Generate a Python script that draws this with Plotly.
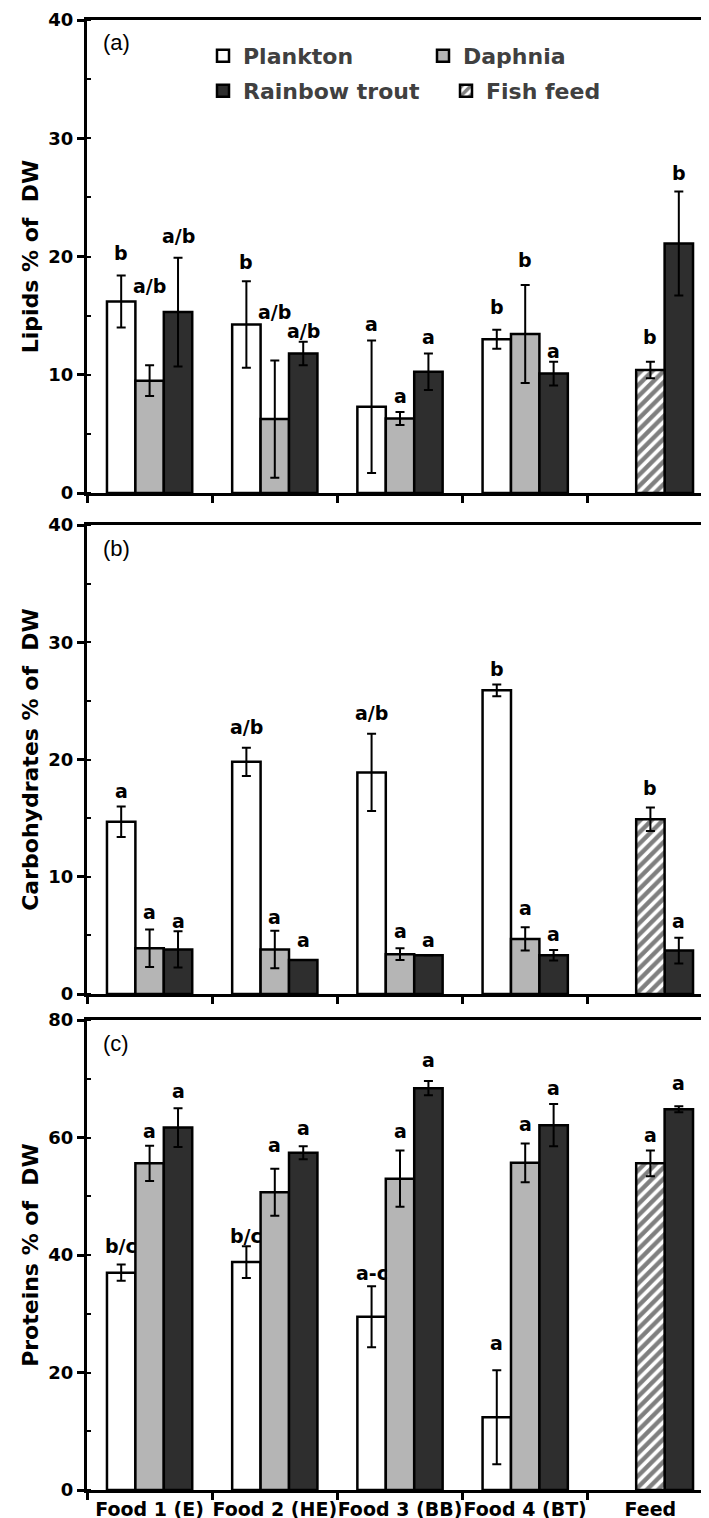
import plotly.graph_objects as go

# ---------------- data ----------------
categories = ["Food 1 (E)", "Food 2 (HE)", "Food 3 (BB)", "Food 4 (BT)", "Feed"]
food_categories = categories[:4]
feed_categories = categories[4:]

series_names = ["Plankton", "Daphnia", "Rainbow trout", "Fish feed"]

# (a) Lipids % of DW
lipid_plankton = [16.2, 14.25, 7.3, 13.0]
lipid_plankton_err = [2.2, 3.65, 5.6, 0.8]
lipid_daphnia = [9.5, 6.25, 6.3, 13.45]
lipid_daphnia_err = [1.3, 4.95, 0.55, 4.15]
lipid_trout = [15.3, 11.8, 10.25, 10.1, 21.1]
lipid_trout_err = [4.6, 1.0, 1.55, 1.0, 4.4]
lipid_feed = [10.4]
lipid_feed_err = [0.7]
lipid_letters_plankton = ["b", "b", "a", "b"]
lipid_letters_daphnia = ["a/b", "a/b", "a", "b"]
lipid_letters_trout = ["a/b", "a/b", "a", "a", "b"]
lipid_letters_feed = ["b"]

# (b) Carbohydrates % of DW
carb_plankton = [14.7, 19.8, 18.9, 25.9]
carb_plankton_err = [1.3, 1.2, 3.3, 0.5]
carb_daphnia = [3.9, 3.8, 3.4, 4.7]
carb_daphnia_err = [1.6, 1.6, 0.5, 1.0]
carb_trout = [3.8, 2.9, 3.3, 3.3, 3.7]
carb_trout_err = [1.55, 0.0, 0.0, 0.45, 1.1]
carb_feed = [14.9]
carb_feed_err = [1.0]
carb_letters_plankton = ["a", "a/b", "a/b", "b"]
carb_letters_daphnia = ["a", "a", "a", "a"]
carb_letters_trout = ["a", "a", "a", "a", "a"]
carb_letters_feed = ["b"]

# (c) Proteins % of DW
prot_plankton = [37.0, 38.8, 29.5, 12.4]
prot_plankton_err = [1.4, 2.7, 5.2, 8.0]
prot_daphnia = [55.6, 50.7, 53.0, 55.7]
prot_daphnia_err = [3.0, 4.0, 4.8, 3.3]
prot_trout = [61.7, 57.4, 68.4, 62.1, 64.8]
prot_trout_err = [3.3, 1.1, 1.2, 3.6, 0.5]
prot_feed = [55.6]
prot_feed_err = [2.2]
prot_letters_plankton = ["b/c", "b/c", "a-c", "a"]
prot_letters_daphnia = ["a", "a", "a", "a"]
prot_letters_trout = ["a", "a", "a", "a", "a"]
prot_letters_feed = ["a"]

# vertical placement of the significance letters (data units, label centre)
lipid_letter_y = {"P": [20.3, 19.5, 14.3, 15.7], "D": [17.5, 15.3, 8.2, 19.7],
                  "T": [21.7, 13.7, 13.2, 12.0, 27.1], "F": [13.2]}
carb_letter_y = {"P": [17.3, 22.8, 24.0, 27.7], "D": [7.0, 6.6, 5.4, 7.3],
                 "T": [6.2, 4.6, 4.6, 5.1, 6.2], "F": [17.6]}
prot_letter_y = {"P": [41.5, 43.2, 36.9, 25.0], "D": [61.1, 58.7, 61.1, 62.3],
                 "T": [67.9, 61.6, 73.2, 68.4, 69.3], "F": [60.4]}

y_titles = ["Lipids % of\u00a0 DW", "Carbohydrates % of\u00a0 DW", "Proteins % of\u00a0 DW"]
y_ranges = [[0, 40], [0, 40], [0, 80]]
y_dticks = [10, 10, 20]
panel_tags = ["(a)", "(b)", "(c)"]

# ---------------- layout geometry ----------------
W, H = 709, 1518
ML, MR, MT, MB = 79, 4, 12, 36
PLOT_H = H - MT - MB
PLOT_W = W - ML - MR
panel_px = [(12, 485), (517, 986), (1012, 1482)]


def dom(top, bottom):
    return [1 - (bottom - MT) / PLOT_H, 1 - (top - MT) / PLOT_H]


BAR_W = 0.227
OFFSETS = {"P": -1.5 * BAR_W, "D": -0.5 * BAR_W, "T": 0.5 * BAR_W, "F": -0.5 * BAR_W}

FILL = {"P": "white", "D": "#b5b5b5", "T": "#2e2e2e", "F": "white"}
BOLD = "DejaVu Sans"

panels = [
    dict(P=(lipid_plankton, lipid_plankton_err, lipid_letters_plankton),
         D=(lipid_daphnia, lipid_daphnia_err, lipid_letters_daphnia),
         T=(lipid_trout, lipid_trout_err, lipid_letters_trout),
         F=(lipid_feed, lipid_feed_err, lipid_letters_feed), ly=lipid_letter_y),
    dict(P=(carb_plankton, carb_plankton_err, carb_letters_plankton),
         D=(carb_daphnia, carb_daphnia_err, carb_letters_daphnia),
         T=(carb_trout, carb_trout_err, carb_letters_trout),
         F=(carb_feed, carb_feed_err, carb_letters_feed), ly=carb_letter_y),
    dict(P=(prot_plankton, prot_plankton_err, prot_letters_plankton),
         D=(prot_daphnia, prot_daphnia_err, prot_letters_daphnia),
         T=(prot_trout, prot_trout_err, prot_letters_trout),
         F=(prot_feed, prot_feed_err, prot_letters_feed), ly=prot_letter_y),
]

xcats = {"P": food_categories, "D": food_categories, "T": categories, "F": feed_categories}
names = {"P": series_names[0], "D": series_names[1], "T": series_names[2], "F": series_names[3]}
legend_of = {"P": "legend", "D": "legend", "T": "legend2", "F": "legend2"}

fig = go.Figure()
annotations = []

for i, pdata in enumerate(panels):
    sfx = "" if i == 0 else str(i + 1)
    xa, ya = "x" + sfx, "y" + sfx
    for key in ["P", "D", "T", "F"]:
        vals, errs, letters = pdata[key]
        marker = dict(color=FILL[key], line=dict(color="black", width=2.5))
        if key == "F":
            marker["pattern"] = dict(shape="/", fgcolor="black", bgcolor="white",
                                     size=8, solidity=0.55)
        fig.add_trace(go.Bar(
            x=xcats[key], y=vals, name=names[key],
            xaxis=xa, yaxis=ya,
            width=BAR_W, offset=OFFSETS[key],
            marker=marker,
            error_y=dict(type="data", array=errs, visible=True, color="black",
                         thickness=2, width=4.5),
            showlegend=(i == 0), legend=legend_of[key],
        ))
        # significance letters
        for j, (lab, ly) in enumerate(zip(letters, pdata["ly"][key])):
            cidx = categories.index(xcats[key][j])
            annotations.append(dict(
                x=cidx + OFFSETS[key] + BAR_W / 2, y=ly, xref=xa, yref=ya,
                text=lab, showarrow=False, xanchor="center", yanchor="middle",
                font=dict(family=BOLD, size=19, color="black", weight="bold")))
    top, bot = panel_px[i]
    annotations.append(dict(
        x=(93 - ML) / PLOT_W, y=1 - 23 / (bot - top),
        xref=xa + " domain", yref=ya + " domain", text=panel_tags[i],
        showarrow=False, xanchor="left", yanchor="middle",
        font=dict(family="Liberation Sans", size=22, color="black")))

layout = dict(
    width=W, height=H, barmode="overlay",
    margin=dict(l=ML, r=MR, t=MT, b=MB, pad=0, autoexpand=False),
    paper_bgcolor="white", plot_bgcolor="white",
    showlegend=True, annotations=annotations,
    font=dict(family=BOLD, color="black"),
)

for i in range(3):
    sfx = "" if i == 0 else str(i + 1)
    top, bot = panel_px[i]
    layout["xaxis" + sfx] = dict(
        domain=[0, 1], anchor="y" + sfx, type="category", automargin=False,
        categoryorder="array", categoryarray=categories, range=[-0.5, 4.5],
        showline=True, linecolor="black", linewidth=3, mirror=True,
        ticks="outside", tickson="boundaries", ticklen=7, tickwidth=2.5, tickcolor="black",
        showticklabels=(i == 2), tickangle=0, showgrid=False, zeroline=False,
        ticklabeloverflow="allow",
        tickfont=dict(family=BOLD, size=19, color="black", weight="bold"),
    )
    layout["yaxis" + sfx] = dict(
        domain=dom(top, bot), anchor="x" + sfx, range=y_ranges[i], dtick=y_dticks[i],
        automargin=False, ticklabeloverflow="allow",
        showline=True, linecolor="black", linewidth=3, mirror=True,
        ticks="outside", ticklen=7, tickwidth=2.5, tickcolor="black",
        minor=dict(dtick=y_dticks[i] / 2, ticks="inside", ticklen=4, tickwidth=2,
                   tickcolor="black"),
        showgrid=False, zeroline=False,
        tickfont=dict(family=BOLD, size=18, color="black", weight="bold"),
        title=dict(text=y_titles[i], standoff=4,
                   font=dict(family=BOLD, size=22, color="black", weight="bold")),
    )

legend_font = dict(family=BOLD, size=22, color="#404040", weight="bold")
layout["legend"] = dict(
    orientation="h", x=(195 - ML) / PLOT_W, xanchor="left",
    y=1 - (48 - MT) / PLOT_H, yanchor="middle", entrywidth=175,
    font=legend_font, bgcolor="rgba(0,0,0,0)", itemwidth=30, traceorder="normal")
layout["legend2"] = dict(
    orientation="h", x=(195 - ML) / PLOT_W, xanchor="left",
    y=1 - (83 - MT) / PLOT_H, yanchor="middle", entrywidth=198,
    font=legend_font, bgcolor="rgba(0,0,0,0)", itemwidth=30, traceorder="normal")

fig.update_layout(**layout)
fig.write_html("out.html")
